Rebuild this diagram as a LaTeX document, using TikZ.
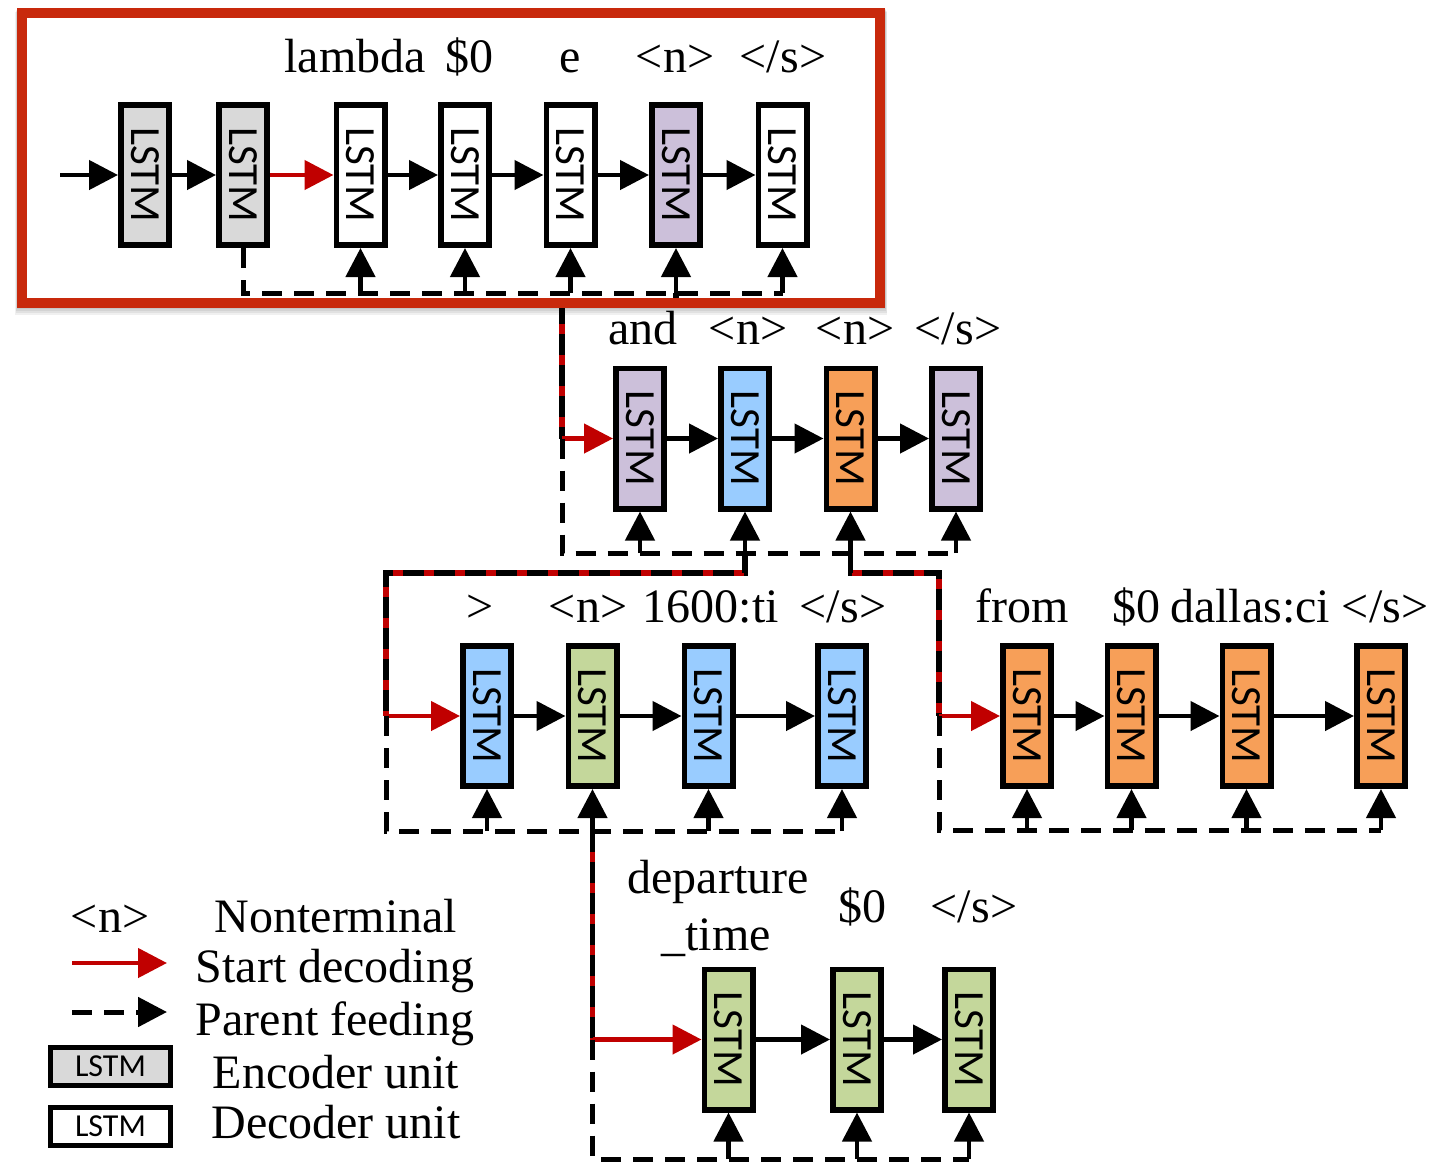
\documentclass[tikz,border=0pt]{standalone}
\usepackage{fontspec}
\usepackage{graphicx}
\setmainfont{Liberation Serif}
\newfontfamily\lstmfont{Carlito}
\usetikzlibrary{arrows.meta}
\definecolor{encgray}{HTML}{D9D9D9}
\definecolor{npurple}{HTML}{CCC0DA}
\definecolor{nblue}{HTML}{99CCFF}
\definecolor{norange}{HTML}{F79F58}
\definecolor{ngreen}{HTML}{C4D79B}
\definecolor{sred}{HTML}{C00000}
\definecolor{framered}{HTML}{C8290C}
\begin{document}
\begin{tikzpicture}[x=0.5pt,y=-0.5pt,
  lstm/.style={draw=black, line width=2.8pt, minimum width=24.2pt, minimum height=70.2pt,
    inner sep=0pt, font=\lstmfont\fontsize{21.5}{21.5}\selectfont},
  legbox/.style={draw=black, line width=2.4pt, minimum width=60pt, minimum height=19pt,
    inner sep=0pt, font=\lstmfont\fontsize{16}{16}\selectfont},
  lbl/.style={font=\fontsize{24}{28}\selectfont, anchor=base, inner sep=0pt},
  tip/.style={-{Triangle[length=14.5pt,width=14.5pt]}},
  flow/.style={line width=2.3pt, tip},
  startdec/.style={line width=2.3pt, tip, draw=sred, color=sred},
  pfline/.style={line width=2.5pt, dash pattern=on 10pt off 6pt},
  pfarrow/.style={line width=2.3pt, tip},
  rb/.style={line width=2.6pt, dash pattern=on 10.5pt off 5pt,
    preaction={draw=sred, solid, line width=2.6pt}},
]
\useasboundingbox (0,0) rectangle (1448,1164);
\fill[white] (0,0) rectangle (1448,1164);

% soft shadow of the frame
\foreach \i/\o in {1/0.06,2/0.06,3/0.06,4/0.06}{
  \fill[black, opacity=\o] (17-\i*0.5, 8+\i) rectangle (885+\i*0.5, 307+\i*2);
}
\fill[white] (22,13) rectangle (880,302);

% ---------- row 1 ----------
\node[lstm, fill=encgray] (r1a) at (145,175) {\rotatebox{-90}{LSTM}};
\node[lstm, fill=encgray] (r1b) at (243,175) {\rotatebox{-90}{LSTM}};
\node[lstm, fill=white]   (r1c) at (360.5,175) {\rotatebox{-90}{LSTM}};
\node[lstm, fill=white]   (r1d) at (465,175) {\rotatebox{-90}{LSTM}};
\node[lstm, fill=white]   (r1e) at (570.5,175) {\rotatebox{-90}{LSTM}};
\node[lstm, fill=npurple] (r1f) at (676,175) {\rotatebox{-90}{LSTM}};
\node[lstm, fill=white]   (r1g) at (782.5,175) {\rotatebox{-90}{LSTM}};
\node[lbl] (l1c) at (355,72) {lambda};
\node[lbl] (l1d) at (469,72) {\$0};
\node[lbl] (l1e) at (570,72) {e};
\node[lbl] (l1f) at (675,72) {<n>};
\node[lbl] (l1g) at (783,72) {</s>};
\coordinate (in1) at (60,175);
\draw[flow] (in1) -- (r1a);
\draw[flow] (r1a) -- (r1b);
\draw[startdec] (r1b) -- (r1c);
\draw[flow] (r1c) -- (r1d);
\draw[flow] (r1d) -- (r1e);
\draw[flow] (r1e) -- (r1f);
\draw[flow] (r1f) -- (r1g);
\coordinate (p1) at (243,293);
\coordinate (p1e) at (782.5,293);
\draw[pfline] (r1b.south) -- (p1) -- (p1e);
\foreach \n in {r1c,r1d,r1e,r1f,r1g}{\draw[pfarrow] (\n.south |- p1) -- (\n.south);}

% ---------- row 2 ----------
\node[lstm, fill=npurple] (r2a) at (640,438.5) {\rotatebox{-90}{LSTM}};
\node[lstm, fill=nblue]   (r2b) at (745,438.5) {\rotatebox{-90}{LSTM}};
\node[lstm, fill=norange] (r2c) at (850.5,438.5) {\rotatebox{-90}{LSTM}};
\node[lstm, fill=npurple] (r2d) at (956,438.5) {\rotatebox{-90}{LSTM}};
\node[lbl] (l2a) at (643,344) {and};
\node[lbl] (l2b) at (748,344) {<n>};
\node[lbl] (l2c) at (855,344) {<n>};
\node[lbl] (l2d) at (958,344) {</s>};
\coordinate (c2) at (562,438.5);
\draw[rb] (r1f.south |- p1) -- (r1f.south |- 0,303) -- (562,303) -- (c2);
\draw[startdec] (c2) -- (r2a);
\draw[flow] (r2a) -- (r2b);
\draw[flow] (r2b) -- (r2c);
\draw[flow] (r2c) -- (r2d);
\coordinate (p2) at (562,553);
\draw[pfline] (c2) -- (p2) -- (r2d.south |- p2);
\foreach \n in {r2a,r2b,r2c,r2d}{\draw[pfarrow] (\n.south |- p2) -- (\n.south);}

% ---------- row 3 left ----------
\node[lstm, fill=nblue]  (r3a) at (487,716) {\rotatebox{-90}{LSTM}};
\node[lstm, fill=ngreen] (r3b) at (592.5,716) {\rotatebox{-90}{LSTM}};
\node[lstm, fill=nblue]  (r3c) at (708.5,716) {\rotatebox{-90}{LSTM}};
\node[lstm, fill=nblue]  (r3d) at (842,716) {\rotatebox{-90}{LSTM}};
\node[lbl] (l3a) at (480,622) {>};
\node[lbl] (l3b) at (588,622) {<n>};
\node[lbl] (l3c) at (711,622) {1600:ti};
\node[lbl] (l3d) at (843,622) {</s>};
\coordinate (c3) at (386,716);
\draw[rb] (r2b.south |- p2) -- (r2b.south |- 0,573) -- (386,573) -- (c3);
\draw[startdec] (c3) -- (r3a);
\draw[flow] (r3a) -- (r3b);
\draw[flow] (r3b) -- (r3c);
\draw[flow] (r3c) -- (r3d);
\coordinate (p3) at (386,831);
\draw[pfline] (c3) -- (p3) -- (r3d.south |- p3);
\foreach \n in {r3a,r3b,r3c,r3d}{\draw[pfarrow] (\n.south |- p3) -- (\n.south);}

% ---------- row 3 right ----------
\node[lstm, fill=norange] (r5a) at (1027,716) {\rotatebox{-90}{LSTM}};
\node[lstm, fill=norange] (r5b) at (1131.5,716) {\rotatebox{-90}{LSTM}};
\node[lstm, fill=norange] (r5c) at (1246.5,716) {\rotatebox{-90}{LSTM}};
\node[lstm, fill=norange] (r5d) at (1381,716) {\rotatebox{-90}{LSTM}};
\node[lbl] (l5a) at (1022,622) {from};
\node[lbl] (l5b) at (1136,622) {\$0};
\node[lbl] (l5c) at (1250,622) {dallas:ci};
\node[lbl] (l5d) at (1385,622) {</s>};
\coordinate (c5) at (939,716);
\draw[rb] (r2c.south |- p2) -- (r2c.south |- 0,573) -- (939,573) -- (c5);
\draw[startdec] (c5) -- (r5a);
\draw[flow] (r5a) -- (r5b);
\draw[flow] (r5b) -- (r5c);
\draw[flow] (r5c) -- (r5d);
\coordinate (p5) at (939,830);
\draw[pfline] (c5) -- (p5) -- (r5d.south |- p5);
\foreach \n in {r5a,r5b,r5c,r5d}{\draw[pfarrow] (\n.south |- p5) -- (\n.south);}

% ---------- row 4 ----------
\node[lstm, fill=ngreen] (r4a) at (728.5,1039.5) {\rotatebox{-90}{LSTM}};
\node[lstm, fill=ngreen] (r4b) at (857,1039.5) {\rotatebox{-90}{LSTM}};
\node[lstm, fill=ngreen] (r4c) at (969,1039.5) {\rotatebox{-90}{LSTM}};
\node[lbl] (l4a) at (718,893) {departure};
\node[lbl] (l4a2) at (716,950) {\_time};
\node[lbl] (l4b) at (862,922) {\$0};
\node[lbl] (l4c) at (974,922) {</s>};
\coordinate (c4) at (592.5,1039.5);
\draw[rb] (r3b.south |- p3) -- (c4);
\draw[startdec] (c4) -- (r4a);
\draw[flow] (r4a) -- (r4b);
\draw[flow] (r4b) -- (r4c);
\coordinate (p4) at (592.5,1159);
\draw[pfline] (c4) -- (p4) -- (r4c.south |- p4);
\foreach \n in {r4a,r4b,r4c}{\draw[pfarrow] (\n.south |- p4) -- (\n.south);}

% ---------- legend ----------
\node[lbl] (g1) at (110,932) {<n>};
\node[lbl] (g1t) at (336,932) {Nonterminal};
\coordinate (g2s) at (72,963);
\coordinate (g2e) at (167,963);
\draw[startdec] (g2s) -- (g2e);
\node[lbl] (g2t) at (335,982) {Start decoding};
\coordinate (g3s) at (72,1012);
\coordinate (g3e) at (167,1012);
\draw[line width=2.5pt, dash pattern=on 10pt off 6pt, tip] (g3s) -- (g3e);
\node[lbl] (g3t) at (335,1035) {Parent feeding};
\node[legbox, fill=encgray] (g4) at (110.5,1066.5) {LSTM};
\node[lbl] (g4t) at (336,1088) {Encoder unit};
\node[legbox, fill=white] (g5) at (110.5,1126.5) {LSTM};
\node[lbl] (g5t) at (336,1138) {Decoder unit};

% ---------- red frame ----------
\draw[framered, line width=5pt] (22,13) rectangle (880,302.5);
\end{tikzpicture}
\end{document}
